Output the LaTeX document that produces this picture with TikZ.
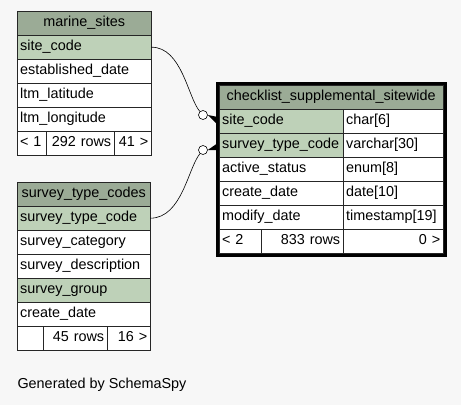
\documentclass[tikz,border=0pt]{standalone}
\usepackage{fontspec}
\setmainfont{Liberation Sans}
\usetikzlibrary{arrows.meta,positioning}

\definecolor{hdrgreen}{HTML}{9BAB96}
\definecolor{keygreen}{HTML}{BED1B8}
\definecolor{bggray}{HTML}{F7F7F7}

\tikzset{
  cell/.style={draw=black!85, minimum height=24pt, inner xsep=3pt, inner ysep=0pt,
    text height=10.5pt, text depth=3pt, anchor=north west, align=left,
    font=\fontsize{14.4}{16}\selectfont},
  hdr/.style={cell, fill=hdrgreen, align=center},
  key/.style={cell, fill=keygreen},
  col/.style={cell, fill=white},
  num/.style={cell, fill=white, align=right},
  odot/.style={circle, draw, semithick, fill=white, inner sep=0pt, minimum size=9pt}
}

\begin{document}
\begin{tikzpicture}[x=1pt,y=-1pt]

% Background
\fill[bggray] (0,0) rectangle (461,405);
\useasboundingbox (0,0) rectangle (461,405);

% marine_sites
\node[hdr, text width=128pt] (ms) at (17,11) {marine\_sites};
\node[key, text width=128pt] (ms-site) at (17,35) {site\_code};
\node[col, text width=128pt] (ms-est) at (17,59) {established\_date};
\node[col, text width=128pt] (ms-lat) at (17,83) {ltm\_latitude};
\node[col, text width=128pt] (ms-lon) at (17,107) {ltm\_longitude};
\node[col, text width=23pt] (ms-in) at (17,131) {< 1};
\node[num, text width=62pt] (ms-rows) at (46,131) {292 rows};
\node[num, text width=31pt] (ms-out) at (114,131) {41 >};

% survey_type_codes
\node[hdr, text width=127pt] (stc) at (17,182) {survey\_type\_codes};
\node[key, text width=127pt] (stc-code) at (17,206) {survey\_type\_code};
\node[col, text width=127pt] (stc-cat) at (17,230) {survey\_category};
\node[col, text width=127pt] (stc-desc) at (17,254) {survey\_description};
\node[key, text width=127pt] (stc-grp) at (17,278) {survey\_group};
\node[col, text width=127pt] (stc-date) at (17,302) {create\_date};
\node[col, text width=20pt] (stc-in) at (17,326) {};
\node[num, text width=58pt] (stc-rows) at (43,326) {45 rows};
\node[num, text width=37pt] (stc-out) at (107,326) {16 >};

% checklist_supplemental_sitewide
\node[hdr, text width=218pt] (ck) at (219,85) {checklist\_supplemental\_sitewide};
\node[key, text width=118pt] (ck-site) at (219,109) {site\_code};
\node[col, text width=94pt] (ck-site-t) at (343,109) {char[6]};
\node[key, text width=118pt] (ck-stc) at (219,133) {survey\_type\_code};
\node[col, text width=94pt] (ck-stc-t) at (343,133) {varchar[30]};
\node[col, text width=118pt] (ck-act) at (219,157) {active\_status};
\node[col, text width=94pt] (ck-act-t) at (343,157) {enum[8]};
\node[col, text width=118pt] (ck-cre) at (219,181) {create\_date};
\node[col, text width=94pt] (ck-cre-t) at (343,181) {date[10]};
\node[col, text width=118pt] (ck-mod) at (219,205) {modify\_date};
\node[col, text width=94pt] (ck-mod-t) at (343,205) {timestamp[19]};
\node[col, text width=36pt] (ck-in) at (219,229) {< 2};
\node[num, text width=76pt] (ck-rows) at (261,229) {833 rows};
\node[num, text width=94pt] (ck-out) at (343,229) {0 >};
\draw[line width=3pt] (217,83) rectangle (445,255);

% Relationships
\node[odot] (o1) at (203,115) {};
\node[odot] (o2) at (203,150) {};
\draw[semithick] (ms-site.east) .. controls (182,47) and (188,98) .. (o1);
\draw[semithick] (stc-code.east) .. controls (182,218) and (188,168) .. (o2);
\fill (o1.east) -- ([yshift=-5pt]ck-site.west) -- ([yshift=4pt]ck-site.west) -- cycle;
\fill (o2.east) -- ([yshift=-5pt]ck-stc.west) -- ([yshift=3pt]ck-stc.west) -- cycle;

% Footer
\node[anchor=west, font=\fontsize{14.4}{16}\selectfont] (gen) at (14,385) {Generated by SchemaSpy};

\end{tikzpicture}
\end{document}
